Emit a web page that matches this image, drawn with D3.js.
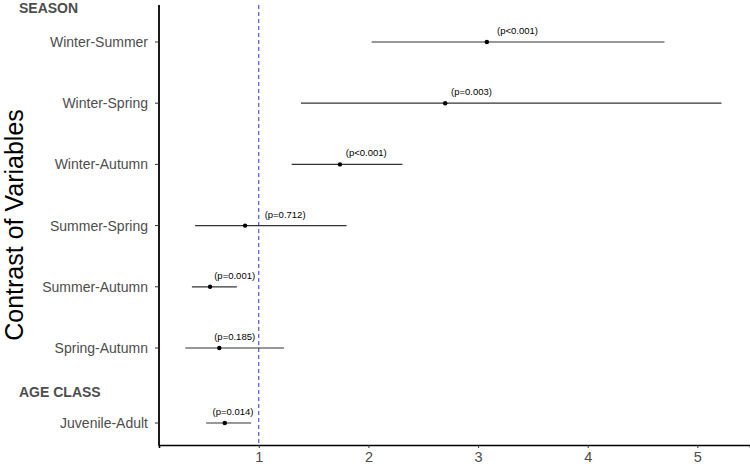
<!DOCTYPE html>
<html>
<head>
<meta charset="utf-8">
<script src="https://cdn.jsdelivr.net/npm/d3@7"></script>
<style>
  body { margin: 0; background: #fff; }
  text { font-family: "Liberation Sans", Arial, sans-serif; }
</style>
</head>
<body>
<div id="container"></div>
<script>
/** CONSTANTS AND GLOBALS */
const width = 750,
  height = 466,
  margin = { top: 5, bottom: 21, left: 159, right: 0 };

/** DATA */
const seasonContrasts = ["Winter-Summer", "Winter-Spring", "Winter-Autumn", "Summer-Spring", "Summer-Autumn", "Spring-Autumn"];
const ageContrasts = ["Juvenile-Adult"];
const estimates = [3.08, 2.70, 1.74, 0.875, 0.556, 0.64, 0.69];
const lower = [2.03, 1.385, 1.30, 0.42, 0.39, 0.33, 0.52];
const upper = [4.70, 5.22, 2.31, 1.80, 0.80, 1.23, 0.93];
const pLabels = ["(p<0.001)", "(p=0.003)", "(p<0.001)", "(p=0.712)", "(p=0.001)", "(p=0.185)", "(p=0.014)"];
const labelX = [3.36, 2.94, 1.98, 1.24, 0.78, 0.78, 0.765];
const xTicks = [1, 2, 3, 4, 5];
const refLine = 1;

const contrasts = seasonContrasts.concat(ageContrasts);
const rows = contrasts.map((c, i) => ({
  name: c,
  group: i < seasonContrasts.length ? "season" : "age",
  est: estimates[i],
  lo: lower[i],
  hi: upper[i],
  p: pLabels[i],
  lx: labelX[i]
}));

/** SCALES */
const xScale = d3.scaleLinear()
  .domain([0.09, 5.48])
  .range([margin.left, width - margin.right]);

const ySeason = d3.scalePoint()
  .domain(seasonContrasts)
  .range([42, 348]);

const yAge = d3.scalePoint()
  .domain(ageContrasts)
  .range([423, 423]);

const yPos = d => d.group === "season" ? ySeason(d.name) : yAge(d.name);

const svg = d3.select("#container")
  .append("svg")
  .attr("width", width)
  .attr("height", height);

// reference line at 1
svg.append("line")
  .attr("x1", xScale(refLine))
  .attr("x2", xScale(refLine))
  .attr("y1", margin.top)
  .attr("y2", height - margin.bottom)
  .attr("stroke", "#3434c8")
  .attr("stroke-width", 1)
  .attr("stroke-dasharray", "4,3");

// x axis
const xAxis = svg.append("g")
  .attr("transform", `translate(0, ${height - margin.bottom})`)
  .call(d3.axisBottom(xScale).tickValues(xTicks).tickFormat(d3.format("d")).tickSize(3).tickPadding(4));
xAxis.select(".domain").attr("stroke", "#000").attr("stroke-width", 1.6);
xAxis.selectAll(".tick line").attr("stroke", "#333");
xAxis.selectAll(".tick text")
  .attr("fill", "#4d4d4d")
  .style("font-size", "14.5px");

// y axis lines and labels
svg.append("line")
  .attr("x1", margin.left)
  .attr("x2", margin.left)
  .attr("y1", margin.top)
  .attr("y2", height - margin.bottom + 0.8)
  .attr("stroke", "#000")
  .attr("stroke-width", 1.8);

const yTicks = svg.selectAll(".ytick")
  .data(rows)
  .join("g")
  .attr("class", "ytick")
  .attr("transform", d => `translate(${margin.left}, ${yPos(d)})`);

yTicks.append("line")
  .attr("x1", -4)
  .attr("x2", 0)
  .attr("stroke", "#333");

yTicks.append("text")
  .attr("x", -11)
  .attr("dy", "0.35em")
  .attr("text-anchor", "end")
  .attr("fill", "#4d4d4d")
  .style("font-size", "14px")
  .text(d => d.name);

// group headers
svg.append("text")
  .attr("x", 19)
  .attr("y", ySeason(seasonContrasts[0]) - 34)
  .attr("dy", "0.35em")
  .attr("fill", "#4d4d4d")
  .style("font-size", "14px")
  .style("font-weight", "bold")
  .text("SEASON");

svg.append("text")
  .attr("x", 19)
  .attr("y", yAge(ageContrasts[0]) - 31)
  .attr("dy", "0.35em")
  .attr("fill", "#4d4d4d")
  .style("font-size", "14px")
  .style("font-weight", "bold")
  .text("AGE CLASS");

// y axis title
svg.append("text")
  .attr("transform", `translate(23, ${(margin.top + height - margin.bottom) / 2}) rotate(-90)`)
  .attr("text-anchor", "middle")
  .attr("fill", "#000")
  .style("font-size", "25px")
  .text("Contrast of Variables");

// intervals
const marks = svg.selectAll(".mark")
  .data(rows)
  .join("g")
  .attr("class", "mark");

marks.append("line")
  .attr("x1", d => xScale(d.lo))
  .attr("x2", d => xScale(d.hi))
  .attr("y1", d => yPos(d))
  .attr("y2", d => yPos(d))
  .attr("stroke", "#333")
  .attr("stroke-width", 1.2);

marks.append("circle")
  .attr("cx", d => xScale(d.est))
  .attr("cy", d => yPos(d))
  .attr("r", 2.2)
  .attr("fill", "#000");

marks.append("text")
  .attr("x", d => xScale(d.lx))
  .attr("y", d => yPos(d) - 8)
  .attr("text-anchor", "middle")
  .attr("fill", "#000")
  .style("font-size", "9.5px")
  .text(d => d.p);
</script>
</body>
</html>
